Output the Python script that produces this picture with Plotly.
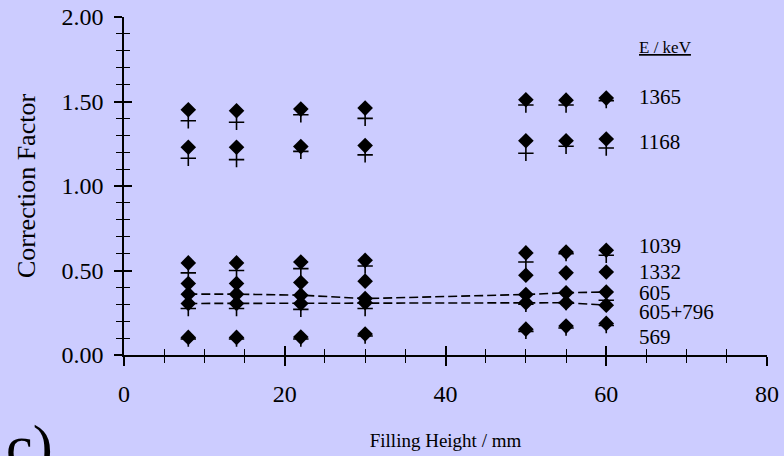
import plotly.graph_objects as go

# ---- data ----
filling_height = [8, 14, 22, 30, 50, 55, 60]

energies = ["1365", "1168", "1039", "1332", "605", "605+796", "569"]

measured = {
    "1365":    [1.451, 1.445, 1.455, 1.461, 1.510, 1.508, 1.520],
    "1168":    [1.229, 1.229, 1.233, 1.239, 1.268, 1.268, 1.278],
    "1039":    [0.545, 0.545, 0.550, 0.560, 0.604, 0.609, 0.620],
    "1332":    [0.423, 0.423, 0.429, 0.437, 0.472, 0.486, 0.491],
    "605":     [0.360, 0.360, 0.354, 0.334, 0.358, 0.368, 0.373],
    "605+796": [0.305, 0.305, 0.305, 0.309, 0.309, 0.309, 0.295],
    "569":     [0.104, 0.104, 0.106, 0.124, 0.153, 0.171, 0.187],
}

calculated = {
    "1365":    [1.386, 1.377, 1.422, 1.400, 1.479, 1.479, 1.505],
    "1168":    [1.164, 1.156, 1.205, 1.184, 1.194, 1.235, 1.225],
    "1039":    [0.486, 0.500, 0.511, 0.527, 0.550, 0.600, 0.590],
    "605+796": [0.275, 0.275, 0.270, 0.275, 0.300, 0.310, 0.324],
    "569":     [0.095, 0.095, 0.095, 0.112, 0.140, 0.160, 0.175],
}

dashed_series = ["605", "605+796"]

# label placement (layout)
label_x = 63.8
label_y = {"1365": 1.528, "1168": 1.263, "1039": 0.645, "1332": 0.490,
           "605": 0.364, "605+796": 0.256, "569": 0.108}

SERIF = "Liberation Serif"
BG = "#CCCCFF"

fig = go.Figure()

for e in energies:
    fig.add_trace(go.Scatter(
        x=filling_height, y=measured[e],
        mode="lines+markers" if e in dashed_series else "markers",
        line=dict(color="black", width=1.6, dash="9px,4px"),
        marker=dict(symbol="diamond", size=12, color="black"),
        showlegend=False, name=e, xaxis="x", yaxis="y",
    ))

for e, vals in calculated.items():
    fig.add_trace(go.Scatter(
        x=filling_height, y=vals, mode="markers",
        marker=dict(symbol="cross-thin-open", size=11, color="black",
                    line=dict(color="black", width=1.6)),
        showlegend=False, name=e + " calc", xaxis="x2", yaxis="y2",
    ))

for e in energies:
    fig.add_annotation(x=label_x, y=label_y[e], text=e, xref="x", yref="y",
                       xanchor="left", yanchor="middle", showarrow=False,
                       font=dict(family=SERIF, size=21, color="black"))

fig.add_annotation(x=label_x, y=1.817, text="<u>E / keV</u>", xref="x", yref="y",
                   xanchor="left", yanchor="middle", showarrow=False,
                   font=dict(family=SERIF, size=17, color="black"))

fig.add_annotation(x=-0.187, y=-0.27, text="c)", xref="paper", yref="paper",
                   xanchor="left", yanchor="middle", showarrow=False,
                   font=dict(family=SERIF, size=60, color="black"))

common_x = dict(range=[0, 80], tickvals=[0, 20, 40, 60, 80], showgrid=False,
                zeroline=False, linecolor="black", linewidth=1.5,
                tickcolor="black", tickwidth=1.5, ticklen=9, automargin=False,
                minor=dict(dtick=5, ticklen=6, tickcolor="black", tickwidth=1.2),
                fixedrange=True)
common_y = dict(range=[0, 2], tickvals=[0, 0.5, 1.0, 1.5, 2.0], showgrid=False,
                zeroline=False, linecolor="black", linewidth=1.5,
                tickcolor="black", tickwidth=1.5, ticklen=8, automargin=False,
                minor=dict(dtick=0.1, ticklen=6, tickcolor="black", tickwidth=1.2),
                fixedrange=True)

fig.update_layout(
    width=784, height=456,
    margin=dict(l=124, r=17, t=17, b=101),
    paper_bgcolor=BG, plot_bgcolor=BG,
    font=dict(family=SERIF, color="black"),
    xaxis=dict(**common_x, ticks="outside",
               minor_ticks="outside",
               tickfont=dict(family=SERIF, size=24),
               ticklabelstandoff=7,
               title=dict(text="Filling Height / mm", standoff=28,
                          font=dict(family=SERIF, size=19))),
    yaxis=dict(**common_y, ticks="outside", minor_ticks="outside",
               tickformat=".2f",
               tickfont=dict(family=SERIF, size=24),
               ticklabelstandoff=6,
               title=dict(text="Correction Factor", standoff=18,
                          font=dict(family=SERIF, size=26))),
    xaxis2=dict(**common_x, ticks="inside", minor_ticks="inside",
                showticklabels=False, overlaying="x", anchor="y2", side="bottom"),
    yaxis2=dict(**common_y, ticks="inside", minor_ticks="inside",
                showticklabels=False, overlaying="y", anchor="x2", side="left"),
)

fig.write_html("out.html")
